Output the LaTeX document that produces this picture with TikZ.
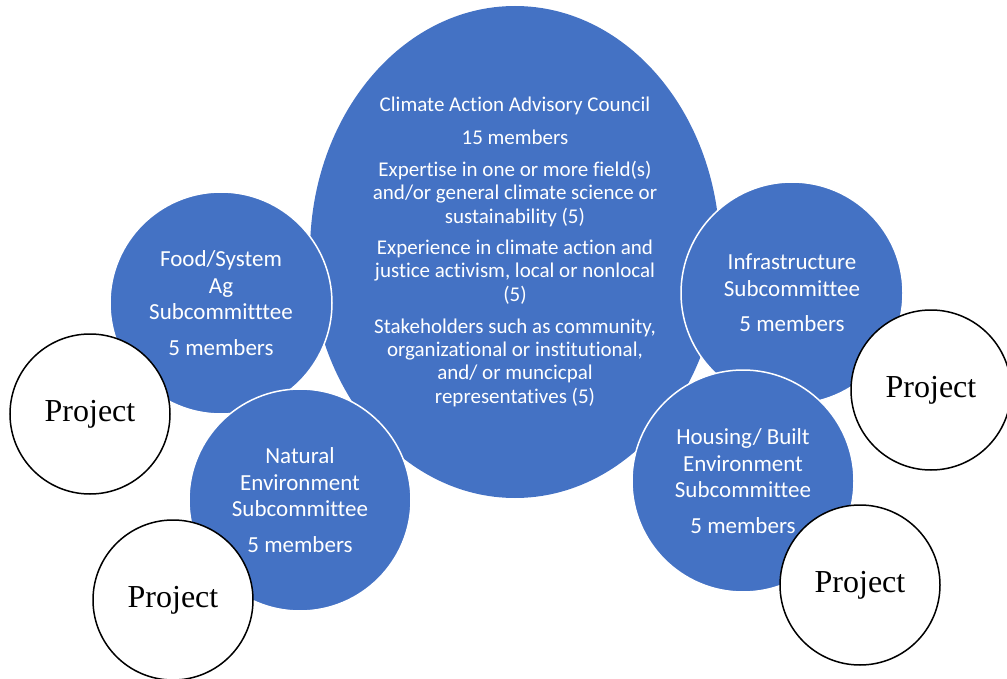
\documentclass[tikz,border=0pt]{standalone}
\usepackage{fontspec}
\setmainfont{Liberation Serif}
\newfontfamily\carlito[Ligatures=NoCommon]{Carlito}
\usetikzlibrary{shapes.geometric}
\definecolor{officeblue}{HTML}{4472C4}

\begin{document}
\begin{tikzpicture}[x=1pt, y=-1pt,
    group/.style={circle, fill=officeblue, draw=white, line width=1.5pt, minimum size=222pt, inner sep=0pt, text=white, align=center, font=\carlito\fontsize{23}{26.5}\selectfont},
    project/.style={circle, fill=white, draw=black, line width=1.5pt, minimum size=160pt, inner sep=0pt, font=\fontsize{32}{36}\selectfont}]
    \useasboundingbox (0,0) rectangle (1007,679);
    % council in the middle
    \node[ellipse, fill=officeblue, minimum width=410pt, minimum height=492pt] (council) at (515,252) {};
    \node[text=white, align=center, font=\carlito\fontsize{21}{23.3}\selectfont] (councilinfo) at (council.center) {Climate Action Advisory Council\\[9pt]
        15 members\\[9pt]
        Expertise in one or more field(s)\\ and/or general climate science or\\ sustainability (5)\\[8pt]
        Experience in climate action and\\ justice activism, local or nonlocal\\ (5)\\[9pt]
        Stakeholders such as community,\\ organizational or institutional,\\ and/ or muncicpal\\ representatives (5)};
    % subcommittees
    \node[group] (food) at (221,303) {Food/System\\ Ag\\ Subcommitttee\\[9pt] 5 members};
    \node[group] (natural) at (300,500) {Natural\\ Environment\\ Subcommittee\\[9pt] 5 members};
    \node[group] (infra) at (792,293) {Infrastructure\\ Subcommittee\\[9pt] 5 members};
    \node[group] (housing) at (743,481) {Housing/ Built\\ Environment\\ Subcommittee\\[9pt] 5 members};
    % projects
    \node[project] (foodproject) at (90,414) {Project};
    \node[project] (naturalproject) at (173,600) {Project};
    \node[project] (infraproject) at (931,390) {Project};
    \node[project] (housingproject) at (860,585) {Project};
\end{tikzpicture}
\end{document}
